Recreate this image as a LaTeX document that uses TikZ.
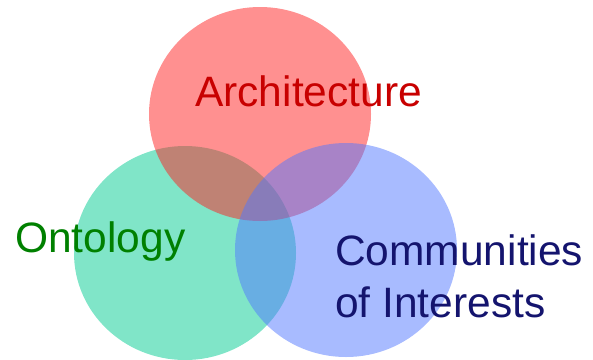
\documentclass[tikz,border=0pt]{standalone}
\usepackage{fontspec}
\setmainfont{Liberation Sans}
\usepackage{xcolor}
\usepackage{tikz}
\usetikzlibrary{positioning,shapes.geometric}

\definecolor{archfill}{RGB}{255,33,33}
\definecolor{ontofill}{RGB}{1,203,145}
\definecolor{commfill}{RGB}{81,119,255}
\definecolor{archtext}{RGB}{200,0,0}
\definecolor{ontotext}{RGB}{0,128,0}
\definecolor{commtext}{RGB}{20,20,110}

\begin{document}
\begin{tikzpicture}[x=1pt, y=-1pt,
	blob/.style={ellipse, draw=none, fill opacity=0.5, inner sep=0pt,
		minimum width=222pt, minimum height=214pt},
	lbl/.style={inner sep=0pt, font=\fontsize{42.5}{52}\selectfont}]
	\useasboundingbox (0,0) rectangle (593,359);
	\node[blob, fill=ontofill] (onto) at (185,253) {};
	\node[blob, fill=archfill] (arch) at (260,114) {};
	\node[blob, fill=commfill] (comm) at (346,250) {};
	\node[lbl, anchor=base west, text=archtext] (archlabel) at (195,106) {Architecture};
	\node[lbl, anchor=base west, text=ontotext] (ontolabel) at (15,252) {Ontology};
	\node[lbl, anchor=north west, align=left, text=commtext] (commlabel) at (335,234) {Communities\\of Interests};
\end{tikzpicture}
\end{document}
